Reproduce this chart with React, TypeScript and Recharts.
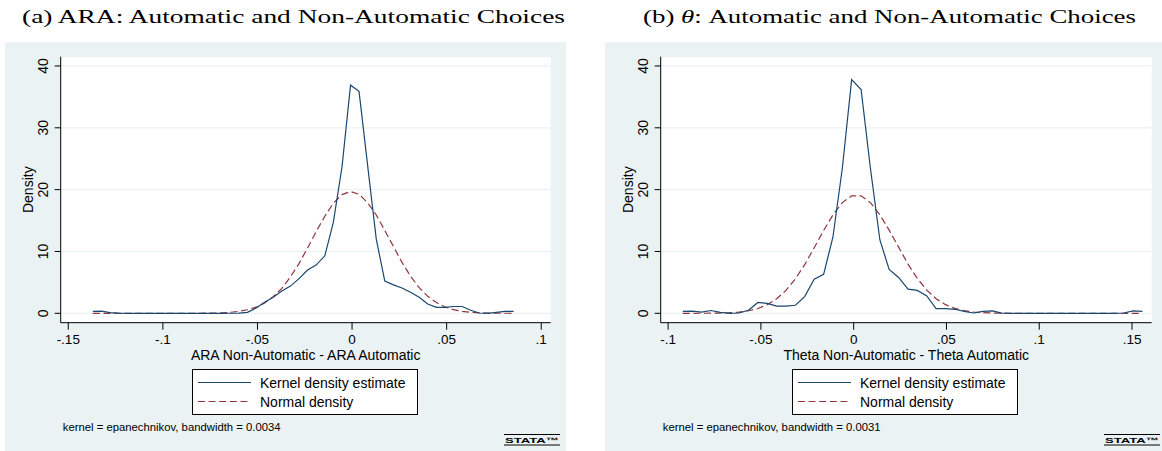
import React from 'react';
import { LineChart, Line, XAxis, YAxis, CartesianGrid, Legend, Label } from 'recharts';

// ---------- data ----------
const ARA_X = [
  -0.137, -0.1325, -0.1279, -0.1234, -0.1188, -0.1143, -0.1098, -0.1052, -0.1007, -0.0961,
  -0.0916, -0.0871, -0.0825, -0.078, -0.0734, -0.0689, -0.0644, -0.0598, -0.0553, -0.0507,
  -0.0462, -0.0417, -0.0371, -0.0326, -0.028, -0.0235, -0.019, -0.0144, -0.0099, -0.0053,
  -0.0008, 0.0037, 0.0082, 0.0128, 0.0173, 0.0219, 0.0264, 0.0309, 0.0355, 0.04,
  0.0446, 0.0491, 0.0536, 0.0582, 0.0627, 0.0673, 0.0718, 0.0763, 0.0809, 0.0854,
];
const ARA_KDE = [
  0.3, 0.35, 0.12, 0.02, 0, 0, 0, 0, 0, 0,
  0, 0, 0, 0, 0, 0, 0.01, 0.03, 0.15, 0.85,
  1.8, 2.6, 3.6, 4.4, 5.6, 7.0, 7.8, 9.3, 14.7, 23.7,
  36.9, 35.9, 24.0, 12.0, 5.2, 4.6, 4.1, 3.4, 2.6, 1.5,
  0.95, 0.95, 1.1, 1.1, 0.5, 0.05, 0, 0.15, 0.3, 0.3,
];
const ARA_NORMAL = [
  0, 0, 0, 0, 0, 0, 0, 0, 0, 0.001,
  0.001, 0.003, 0.007, 0.016, 0.036, 0.078, 0.16, 0.31, 0.57, 0.99,
  1.66, 2.67, 4.04, 5.87, 8.07, 10.56, 13.2, 15.7, 17.8, 19.2,
  19.7, 19.25, 17.9, 15.9, 13.4, 10.8, 8.23, 6.0, 4.14, 2.75,
  1.74, 1.03, 0.59, 0.32, 0.165, 0.082, 0.038, 0.017, 0.007, 0.003,
];

const THETA_X = [
  -0.0921, -0.087, -0.082, -0.0769, -0.0719, -0.0668, -0.0618, -0.0567, -0.0516, -0.0466,
  -0.0415, -0.0365, -0.0314, -0.0264, -0.0213, -0.0162, -0.0112, -0.0061, -0.0011, 0.004,
  0.009, 0.0141, 0.0191, 0.0242, 0.0293, 0.0343, 0.0394, 0.0444, 0.0495, 0.0545,
  0.0596, 0.0646, 0.0697, 0.0748, 0.0798, 0.0849, 0.0899, 0.095, 0.1, 0.1051,
  0.1102, 0.1152, 0.1203, 0.1253, 0.1304, 0.1354, 0.1405, 0.1455, 0.1506, 0.1556,
];
const THETA_KDE = [
  0.3, 0.35, 0.2, 0.45, 0.15, 0.0, 0.05, 0.5, 1.75, 1.6,
  1.15, 1.15, 1.3, 2.7, 5.5, 6.3, 12.3, 23.5, 37.8, 36.2,
  23.5, 11.9, 7.1, 5.8, 3.9, 3.7, 2.8, 0.75, 0.75, 0.65,
  0.3, 0.05, 0.3, 0.4, 0.02, 0, 0, 0, 0, 0,
  0, 0, 0, 0, 0, 0, 0, 0.05, 0.4, 0.3,
];
const THETA_NORMAL = [
  0.001, 0.003, 0.007, 0.018, 0.042, 0.097, 0.2, 0.41, 0.78, 1.39,
  2.35, 3.7, 5.58, 7.86, 10.6, 13.4, 15.9, 17.9, 19.0, 19.0,
  17.9, 15.95, 13.45, 10.7, 7.95, 5.63, 3.74, 2.37, 1.4, 0.79,
  0.42, 0.21, 0.098, 0.043, 0.018, 0.007, 0.003, 0.001, 0, 0,
  0, 0, 0, 0, 0, 0, 0, 0, 0, 0,
];

const ARA_TICKS = [-0.15, -0.1, -0.05, 0, 0.05, 0.1];
const ARA_TICK_LABELS = ['-.15', '-.1', '-.05', '0', '.05', '.1'];
const THETA_TICKS = [-0.1, -0.05, 0, 0.05, 0.1, 0.15];
const THETA_TICK_LABELS = ['-.1', '-.05', '0', '.05', '.1', '.15'];
const Y_TICKS = [0, 10, 20, 30, 40];
const Y_TICK_LABELS = ['0', '10', '20', '30', '40'];
const LEGEND_LABELS = ['Kernel density estimate', 'Normal density'];

// ---------- styling ----------
const NAVY = '#1A476F';
const MAROON = '#90353B';
const BG = '#EAF2F3';
const SANS = '"Liberation Sans", Arial, Helvetica, sans-serif';
const SERIF = '"Liberation Serif", "Times New Roman", serif';

const CHART_H = 451;

type PanelProps = {
  left: number;
  bgLeft: number;
  width: number;
  marginRight: number;
  xs: number[];
  kde: number[];
  normal: number[];
  ticks: number[];
  tickLabels: string[];
  domain: [number, number];
  xTitle: string;
  footnote: string;
};

function LegendBox() {
  return (
    <svg width={227} height={47} style={{ display: 'block' }}>
      <rect x={0.5} y={0.5} width={225} height={45} fill="#ffffff" stroke="#000000" strokeWidth={1} />
      <line x1={6} x2={59} y1={13.5} y2={13.5} stroke={NAVY} strokeWidth={1.2} />
      <text x={68} y={18.5} fontSize={14} fontFamily={SANS} fill="#000">{LEGEND_LABELS[0]}</text>
      <line x1={6} x2={59} y1={32.5} y2={32.5} stroke={MAROON} strokeWidth={1.2} strokeDasharray="7 3.6" />
      <text x={68} y={37.5} fontSize={14} fontFamily={SANS} fill="#000">{LEGEND_LABELS[1]}</text>
    </svg>
  );
}

function Panel(p: PanelProps) {
  const data = p.xs.map((x, i) => ({ x, kde: p.kde[i], normal: p.normal[i] }));

  const XTick = (props: any) => {
    const { x, payload } = props;
    const idx = p.ticks.indexOf(payload.value);
    return (
      <text x={x} y={343.5} textAnchor="middle" fontSize={13.5} fontFamily={SANS} fill="#000">
        {idx >= 0 ? p.tickLabels[idx] : ''}
      </text>
    );
  };
  const YTick = (props: any) => {
    const { y, payload } = props;
    const idx = Y_TICKS.indexOf(payload.value);
    return (
      <text
        x={48.5}
        y={y}
        transform={`rotate(-90, 48.5, ${y})`}
        textAnchor="middle"
        fontSize={14}
        fontFamily={SANS}
        fill="#000"
      >
        {idx >= 0 ? Y_TICK_LABELS[idx] : ''}
      </text>
    );
  };

  return (
    <div style={{ position: 'absolute', left: p.left, top: 0, width: p.width, height: CHART_H }}>
      <div
        style={{
          position: 'absolute',
          left: p.bgLeft,
          top: 42,
          width: p.width - p.bgLeft,
          height: CHART_H - 42,
          background: BG,
        }}
      />
      <div style={{ position: 'absolute', left: 0, top: 0 }}>
        <LineChart
          width={p.width}
          height={CHART_H}
          data={data}
          margin={{ top: 56.7, right: p.marginRight, bottom: 98.3, left: 0 }}
        >
          <CartesianGrid fill="#ffffff" vertical={false} stroke={BG} strokeWidth={1.2} />
          <XAxis
            type="number"
            dataKey="x"
            domain={p.domain}
            ticks={p.ticks}
            allowDataOverflow
            height={30}
            tickSize={7}
            tickLine={{ stroke: '#000' }}
            axisLine={{ stroke: '#000' }}
            tick={XTick}
            interval={0}
          >
            <Label
              content={(lp: any) => {
                const vb = lp.viewBox || {};
                const cx = (vb.x ?? 60.7) + (vb.width ?? 490) / 2;
                return (
                  <text x={cx} y={359.5} textAnchor="middle" fontSize={14} fontFamily={SANS} fill="#000">
                    {p.xTitle}
                  </text>
                );
              }}
            />
          </XAxis>
          <YAxis
            type="number"
            domain={[-1.52, 41.5]}
            ticks={Y_TICKS}
            allowDataOverflow
            width={60.7}
            tickSize={6}
            tickLine={{ stroke: '#000' }}
            axisLine={{ stroke: '#000' }}
            tick={YTick}
            interval={0}
          >
            <Label
              content={(lp: any) => {
                const vb = lp.viewBox || {};
                const cy = (vb.y ?? 56.7) + (vb.height ?? 266) / 2;
                return (
                  <text
                    x={33}
                    y={cy}
                    transform={`rotate(-90, 33, ${cy})`}
                    textAnchor="middle"
                    fontSize={14}
                    fontFamily={SANS}
                    fill="#000"
                  >
                    Density
                  </text>
                );
              }}
            />
          </YAxis>
          <Line
            type="linear"
            dataKey="normal"
            name={LEGEND_LABELS[1]}
            stroke={MAROON}
            strokeWidth={1.2}
            strokeDasharray="7 3.6"
            dot={false}
            activeDot={false}
            isAnimationActive={false}
          />
          <Line
            type="linear"
            dataKey="kde"
            name={LEGEND_LABELS[0]}
            stroke={NAVY}
            strokeWidth={1.2}
            dot={false}
            activeDot={false}
            isAnimationActive={false}
          />
          <Legend
            layout="horizontal"
            verticalAlign="middle"
            align="center"
            content={() => <LegendBox />}
            wrapperStyle={{ position: 'absolute', left: 192, top: 369, width: 227, height: 47 }}
          />
        </LineChart>
      </div>
      <svg
        width={p.width}
        height={CHART_H}
        style={{ position: 'absolute', left: 0, top: 0, pointerEvents: 'none' }}
      >
        <text x={62.8} y={431} fontSize={11.3} fontFamily={SANS} fill="#000">
          {p.footnote}
        </text>
        <line x1={504} x2={560} y1={434.5} y2={434.5} stroke="#000" strokeWidth={1} />
        <line x1={504} x2={560} y1={445} y2={445} stroke="#000" strokeWidth={1} />
        <text
          x={505}
          y={443}
          fontSize={7.5}
          fontFamily={SANS}
          fontWeight="bold"
          fill="#000"
          textLength={54}
          lengthAdjust="spacingAndGlyphs"
        >
          STATA™
        </text>
      </svg>
    </div>
  );
}

export default function App() {
  return (
    <div
      style={{
        position: 'absolute',
        left: 0,
        top: 0,
        width: 1162,
        height: 451,
        background: '#ffffff',
        overflow: 'hidden',
      }}
    >
      <svg width={1162} height={40} style={{ position: 'absolute', left: 0, top: 0 }}>
        <text
          x={22}
          y={22.5}
          fontSize={19}
          fontFamily={SERIF}
          fill="#000"
          textLength={543}
          lengthAdjust="spacingAndGlyphs"
        >
          (a) ARA: Automatic and Non-Automatic Choices
        </text>
        <text
          x={643}
          y={22.5}
          fontSize={19}
          fontFamily={SERIF}
          fill="#000"
          textLength={493}
          lengthAdjust="spacingAndGlyphs"
        >
          (b) <tspan fontStyle="italic">θ</tspan>: Automatic and Non-Automatic Choices
        </text>
      </svg>
      <Panel
        left={0}
        bgLeft={5}
        width={566}
        marginRight={15.3}
        xs={ARA_X}
        kde={ARA_KDE}
        normal={ARA_NORMAL}
        ticks={ARA_TICKS}
        tickLabels={ARA_TICK_LABELS}
        domain={[-0.154, 0.105]}
        xTitle="ARA Non-Automatic - ARA Automatic"
        footnote="kernel = epanechnikov, bandwidth = 0.0034"
      />
      <Panel
        left={600}
        bgLeft={5}
        width={562}
        marginRight={10.3}
        xs={THETA_X}
        kde={THETA_KDE}
        normal={THETA_NORMAL}
        ticks={THETA_TICKS}
        tickLabels={THETA_TICK_LABELS}
        domain={[-0.104, 0.1606]}
        xTitle="Theta Non-Automatic - Theta Automatic"
        footnote="kernel = epanechnikov, bandwidth = 0.0031"
      />
    </div>
  );
}
